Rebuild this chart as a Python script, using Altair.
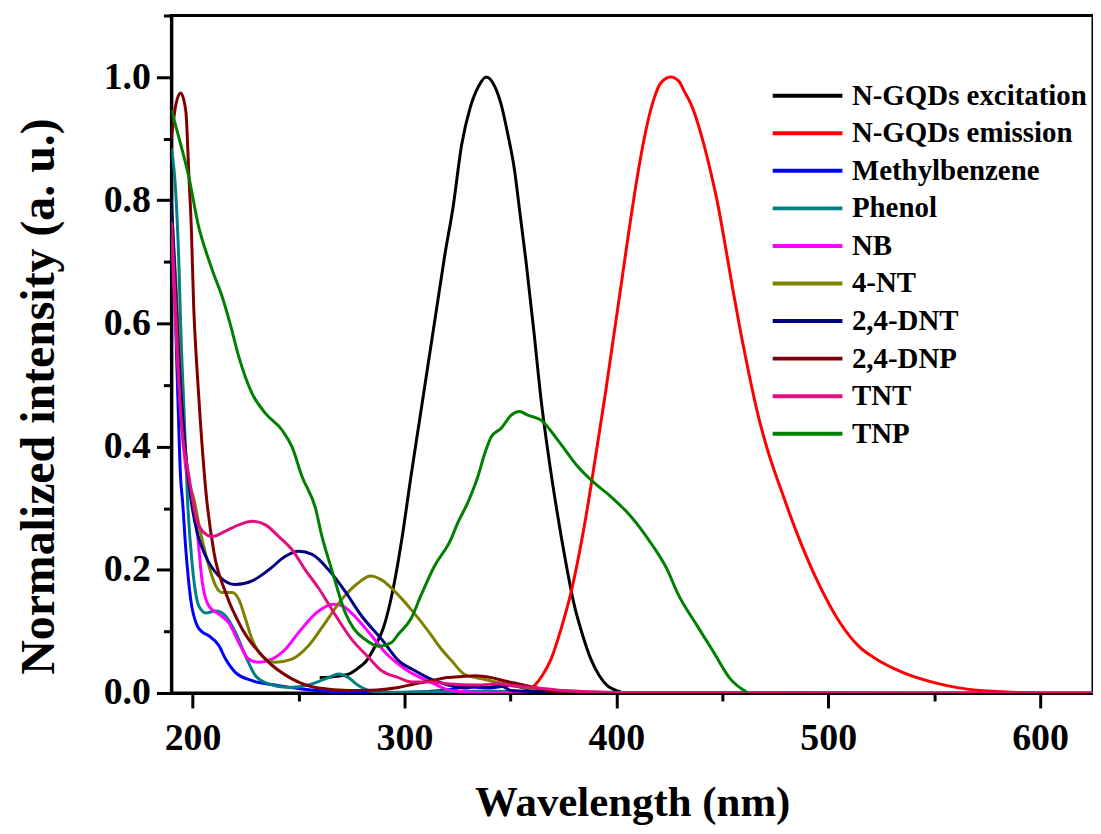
import altair as alt
import pandas as pd

# ---- data ----
exc_wl = [260, 268, 274, 278, 282, 286, 290, 295, 299, 303, 307, 311, 315, 319, 323, 327, 331, 335, 338.6,
          342.6, 345.7, 348.8, 352, 354.3, 357.4, 361, 364.5, 368, 372, 376, 380, 384, 388, 392, 396, 400, 405, 430]
exc_y = [0.025, 0.027, 0.031, 0.04, 0.052, 0.075, 0.105, 0.175, 0.255, 0.35, 0.44, 0.53, 0.62, 0.71, 0.79, 0.89, 0.95, 0.985, 1.0,
         0.985, 0.955, 0.907, 0.848, 0.785, 0.7, 0.59, 0.476, 0.385, 0.295, 0.215, 0.145, 0.095, 0.055, 0.028, 0.011, 0.004, 0.0, 0.0]

em_wl = [355, 361.4, 365, 369.2, 374, 378.6, 384.9, 389.6, 395, 399, 402.6, 406.8, 411.5, 414.7, 417.8, 420.9, 425.6,
         429.6, 431.9, 435, 438.2, 441.3, 444.4, 447.6, 451, 455, 459, 462.5, 467, 471.1, 478.9, 485.2, 494.6, 505.6, 515, 521.3,
         535.4, 551, 571.4, 600]
em_y = [0.0, 0.012, 0.028, 0.055, 0.105, 0.163, 0.271, 0.37, 0.49, 0.585, 0.67, 0.77, 0.87, 0.925, 0.965, 0.99, 1.0,
        0.993, 0.978, 0.958, 0.928, 0.891, 0.848, 0.799, 0.735, 0.655, 0.58, 0.52, 0.45, 0.398, 0.319, 0.26, 0.184, 0.114, 0.074,
        0.058, 0.033, 0.016, 0.004, 0.0]

mb_wl = [190, 191.3, 192.8, 194.4, 195.2, 196.8, 199.1, 202.2, 205, 207.7, 212.4, 215.6, 220.3, 228.1, 240.7, 251.6, 267.3, 285,
         300, 320, 330, 340, 350, 360, 380]
mb_y = [0.72, 0.67, 0.508, 0.346, 0.314, 0.233, 0.152, 0.109, 0.098, 0.093, 0.077, 0.055, 0.033, 0.02, 0.012, 0.0065, 0.002, 0.001,
        0.001, 0.005, 0.01, 0.008, 0.012, 0.005, 0.0]

ph_wl = [190, 192.1, 193.6, 194.4, 196, 197.6, 199.9, 203, 206.2, 210.9, 215.6, 220.3, 225, 229.7, 236, 245.4, 254.8, 264.2, 268.9,
         273.6, 278.3, 283, 290, 330, 360, 380]
ph_y = [0.885, 0.81, 0.69, 0.594, 0.455, 0.314, 0.206, 0.141, 0.13, 0.133, 0.125, 0.098, 0.06, 0.028, 0.0146, 0.009, 0.013, 0.025,
        0.031, 0.025, 0.012, 0.004, 0.001, 0.003, 0.002, 0.0]

nb_wl = [190, 192, 194.5, 197, 199.9, 202.2, 204.6, 207.7, 212.4, 217.1, 221.8, 226.5, 231.2, 237.5, 243.8, 250, 259.5, 266.5, 270.4,
         275.5, 284, 290.8, 300.2, 312.8, 322.1, 335, 360]
nb_y = [0.74, 0.6, 0.45, 0.36, 0.314, 0.26, 0.179, 0.141, 0.128, 0.114, 0.082, 0.055, 0.05, 0.055, 0.071, 0.098, 0.133, 0.144, 0.142,
        0.128, 0.095, 0.066, 0.039, 0.017, 0.004, 0.001, 0.0]

nt_wl = [190, 192.1, 194.4, 197.6, 200.7, 203.8, 207.7, 210.9, 214, 218.7, 221.8, 225, 228.1, 232.8, 239.1, 246.9, 254.8, 262.6, 270.4,
         278.3, 284, 289, 294, 299, 303.3, 308, 312.8, 317, 322.1, 328.5, 337.9, 347.3, 363, 380, 400]
nt_y = [0.788, 0.67, 0.508, 0.357, 0.314, 0.26, 0.206, 0.174, 0.163, 0.163, 0.152, 0.12, 0.087, 0.06, 0.05, 0.055, 0.077, 0.114, 0.152,
        0.179, 0.19, 0.184, 0.17, 0.152, 0.135, 0.115, 0.093, 0.073, 0.053, 0.03, 0.022, 0.015, 0.0065, 0.003, 0.0]

dnt_wl = [190, 193, 196, 199, 202.2, 206.2, 212.4, 220.3, 228.1, 236, 243.8, 250.1, 256.4, 264.2, 272, 279.8, 289.3, 297.1, 305,
          312.8, 320.6, 328.5, 335, 339.5, 345, 350.4, 363, 380]
dnt_y = [0.8, 0.58, 0.42, 0.32, 0.26, 0.222, 0.19, 0.176, 0.182, 0.2, 0.222, 0.23, 0.225, 0.2, 0.165, 0.125, 0.087, 0.053, 0.036,
         0.022, 0.013, 0.008, 0.011, 0.009, 0.012, 0.004, 0.002, 0.0]

dnp_wl = [190, 192.1, 194.4, 196.8, 198.3, 199.4, 200.5, 202, 203.5, 206.2, 210.1, 215.6, 223.4, 234.4, 246.9, 259.5, 273.6, 287,
          297.1, 305, 312.8, 320, 328.5, 333, 341, 348, 353.5, 361.4, 372.3, 385]
dnp_y = [0.9, 0.955, 0.974, 0.945, 0.837, 0.756, 0.63, 0.53, 0.45, 0.33, 0.228, 0.163, 0.104, 0.055, 0.023, 0.008, 0.004, 0.005,
         0.009, 0.015, 0.02, 0.025, 0.027, 0.028, 0.025, 0.019, 0.015, 0.009, 0.001, 0.0]

tnt_wl = [190, 192.1, 194.4, 198.3, 201.5, 204.6, 209.3, 215.6, 221.8, 228.1, 234.4, 240.7, 246.9, 253.2, 259.5, 267.3, 275.1, 283,
          289.3, 297.1, 303.3, 312.8, 320, 334.7, 344, 350, 361, 374, 400, 625]
tnt_y = [0.765, 0.616, 0.454, 0.352, 0.287, 0.263, 0.254, 0.263, 0.273, 0.279, 0.273, 0.254, 0.233, 0.2, 0.17, 0.127, 0.087, 0.058,
         0.036, 0.025, 0.018, 0.018, 0.015, 0.013, 0.015, 0.012, 0.009, 0.004, 0.001, 0.0]

tnp_wl = [190, 193.6, 198.3, 203, 206.2, 210, 214, 218, 221.8, 228.1, 234.4, 242.2, 246.9, 251.6, 258, 261, 265.7, 272, 276, 281.4,
          287.7, 293.9, 297, 303, 308, 314, 322, 325, 330, 334.7, 338, 341, 345.7, 350.4, 354.3, 358.2, 364.5, 372.3, 381.7, 389.6,
          397.4, 406.8, 416.2, 424.1, 428.8, 438.2, 446, 453.8, 461.7]
tnp_y = [0.947, 0.901, 0.837, 0.755, 0.718, 0.68, 0.643, 0.596, 0.546, 0.486, 0.454, 0.427, 0.4, 0.352, 0.3, 0.255, 0.2, 0.131, 0.105,
         0.087, 0.076, 0.082, 0.095, 0.12, 0.16, 0.205, 0.25, 0.275, 0.31, 0.352, 0.39, 0.416, 0.43, 0.451, 0.457, 0.451, 0.443, 0.411,
         0.368, 0.341, 0.319, 0.287, 0.244, 0.2, 0.163, 0.109, 0.066, 0.023, 0.001]

series_names = ["N-GQDs excitation", "N-GQDs emission", "Methylbenzene", "Phenol", "NB",
                "4-NT", "2,4-DNT", "2,4-DNP", "TNT", "TNP"]
series_colors = ["#000000", "#FF0000", "#0000FF", "#008080", "#FF00FF",
                 "#808000", "#000080", "#800000", "#E0107F", "#008000"]
series_data = [(exc_wl, exc_y), (em_wl, em_y), (mb_wl, mb_y), (ph_wl, ph_y), (nb_wl, nb_y),
               (nt_wl, nt_y), (dnt_wl, dnt_y), (dnp_wl, dnp_y), (tnt_wl, tnt_y), (tnp_wl, tnp_y)]

x_ticks = [200, 250, 300, 350, 400, 450, 500, 550, 600]
y_ticks = [0.0, 0.1, 0.2, 0.3, 0.4, 0.5, 0.6, 0.7, 0.8, 0.9, 1.0, 1.1]

rows = []
for k, (name, (wl, yy)) in enumerate(zip(series_names, series_data)):
    for i, (a, b) in enumerate(zip(wl, yy)):
        rows.append({"series": name, "wl": a, "y": b, "idx": i, "k": k})
df = pd.DataFrame(rows)

FONT = "Liberation Serif"

xaxis = alt.Axis(
    values=x_ticks,
    title="Wavelength (nm)",
    labelExpr="datum.value % 100 === 0 ? datum.label : ''",
    tickSize={"condition": {"test": "datum.value % 100 === 0", "value": 15}, "value": 8},
    grid=False, labelFontSize=38, titleFontSize=43, labelPadding=12, titlePadding=24,
)
yaxis = alt.Axis(
    values=y_ticks,
    title="Normalized intensity (a. u.)",
    labelExpr="round(datum.value*10) % 2 === 0 ? format(datum.value, '.1f') : ''",
    tickSize={"condition": {"test": "round(datum.value*10) % 2 === 0", "value": 15}, "value": 8},
    grid=False, labelFontSize=38, titleFontSize=48, labelPadding=6, titlePadding=40, titleY=382,
)

chart = alt.Chart(df).mark_line(strokeWidth=3, interpolate="monotone", clip=True).encode(
    x=alt.X("wl:Q", scale=alt.Scale(domain=[190, 625], nice=False, zero=False), axis=xaxis),
    y=alt.Y("y:Q", scale=alt.Scale(domain=[0, 1.1], nice=False, zero=False), axis=yaxis),
    color=alt.Color("series:N", scale=alt.Scale(domain=series_names, range=series_colors),
                    sort=series_names,
                    legend=alt.Legend(title=None, orient="none", legendX=599, legendY=66,
                                      symbolType="M-1,0H6", symbolSize=400, symbolStrokeWidth=4,
                                      labelFont=FONT, labelFontWeight="bold", labelFontSize=29,
                                      labelOffset=55, rowPadding=7.7, labelLimit=400)),
    order=alt.Order("idx:Q"),
    detail="k:N",
).properties(
    width=925, height=680,
    autosize=alt.AutoSizeParams(type="none"),
    padding={"left": 164, "top": 6, "right": 0, "bottom": 138},
).configure_axis(
    labelFont=FONT, titleFont=FONT, labelFontWeight="bold", titleFontWeight="bold",
    labelColor="black", titleColor="black", domainColor="black", tickColor="black",
    domainWidth=3, tickWidth=3,
).configure_legend(
    labelFont=FONT, labelColor="black",
).configure_view(stroke="black", strokeWidth=3)

chart.save("out.html", embed_options={"renderer": "svg", "actions": False})
